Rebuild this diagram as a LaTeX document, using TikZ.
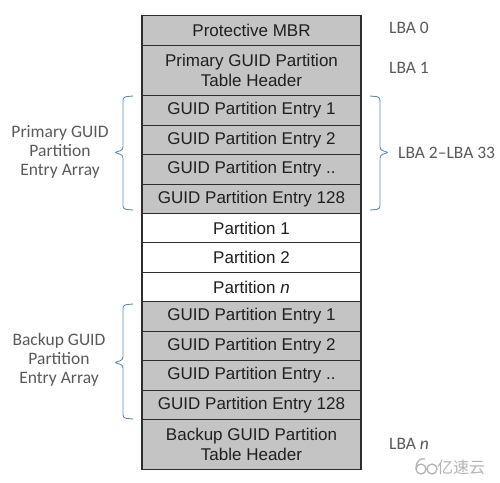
\documentclass[tikz,border=0pt]{standalone}
\usepackage{fontspec}
\setmainfont{Liberation Sans}
\newfontfamily\calfont{Carlito}
\newfontfamily\cjkfont{Noto Sans CJK SC}
\usetikzlibrary{calc}
\definecolor{rowgray}{HTML}{C4C4C4}
\definecolor{rowline}{HTML}{2E2E2E}
\definecolor{bracecol}{HTML}{5F8CB4}
\definecolor{labcol}{HTML}{595959}
\definecolor{wmcol}{HTML}{B4B4B4}
\tikzset{
  rowbox/.style={draw=rowline, line width=1.1pt, fill=rowgray, anchor=north,
    minimum width=219pt, inner sep=0pt, align=center, text=black!88,
    font=\fontsize{17}{20}\selectfont},
  partbox/.style={rowbox, fill=white},
  bracket/.style={draw=bracecol, line width=0.9pt, rounded corners=3pt},
  sidelab/.style={text=labcol, align=center, font=\calfont\fontsize{17.5}{19}\selectfont, inner sep=0pt},
  lbalab/.style={text=labcol, anchor=west, font=\calfont\fontsize{17.5}{19}\selectfont, inner sep=0pt}
}
\begin{document}
\begin{tikzpicture}[x=1pt,y=-1pt]
\useasboundingbox (0,0) rectangle (500,482);
% rows
\node[rowbox, minimum height=30pt] (mbr) at (251.5,15) {Protective MBR};
\node[rowbox, minimum height=50pt] (hdr) at (251.5,45) {Primary GUID Partition\\Table Header};
\node[rowbox, minimum height=30pt] (e1) at (251.5,95) {GUID Partition Entry 1};
\node[rowbox, minimum height=29pt] (e2) at (251.5,125) {GUID Partition Entry 2};
\node[rowbox, minimum height=30pt] (e3) at (251.5,154) {GUID Partition Entry ..};
\node[rowbox, minimum height=29pt] (e4) at (251.5,184) {GUID Partition Entry 128};
\node[partbox, minimum height=29pt] (p1) at (251.5,213) {Partition 1};
\node[partbox, minimum height=30pt] (p2) at (251.5,242) {Partition 2};
\node[partbox, minimum height=29pt] (pn) at (251.5,272) {Partition \textit{n}};
\node[rowbox, minimum height=30pt] (b1) at (251.5,301) {GUID Partition Entry 1};
\node[rowbox, minimum height=29pt] (b2) at (251.5,331) {GUID Partition Entry 2};
\node[rowbox, minimum height=30pt] (b3) at (251.5,360) {GUID Partition Entry ..};
\node[rowbox, minimum height=29pt] (b4) at (251.5,390) {GUID Partition Entry 128};
\node[rowbox, minimum height=50pt] (bh) at (251.5,419) {Backup GUID Partition\\Table Header};
% side labels
\node[sidelab] (plab) at (60,152) {Primary GUID\\Partition\\Entry Array};
\node[sidelab] (blab) at (59,360) {Backup GUID\\Partition\\Entry Array};
\node[lbalab] (lba0) at (389,28) {LBA 0};
\node[lbalab] (lba1) at (389,68) {LBA 1};
\node[lbalab] (lba2) at (398,153) {LBA 2–LBA 33};
\node[lbalab] (lban) at (389,444) {LBA \textit{n}};
% brackets
\draw[bracket] (133,96) -- (123,97) -- (123,150) -- (114,152.5) -- (123,155) -- (123,209) -- (133,210);
\draw[bracket] (370,96) -- (380,97) -- (380,150) -- (389,152.5) -- (380,155) -- (380,209) -- (370,210);
\draw[bracket] (133,304) -- (123,305) -- (123,360) -- (114,362.5) -- (123,365) -- (123,418) -- (133,419);
% watermark
\node[text=wmcol, anchor=west, inner sep=0pt, font=\cjkfont\fontsize{16}{16}\selectfont] (wm) at (437,467) {亿速云};
\draw[wmcol, line width=1.3pt] (421,469) circle (5) (432,469) circle (5);
\draw[wmcol, line width=1.3pt] (416,469) .. controls (416,460) and (421,458) .. (425,459);
\end{tikzpicture}
\end{document}
